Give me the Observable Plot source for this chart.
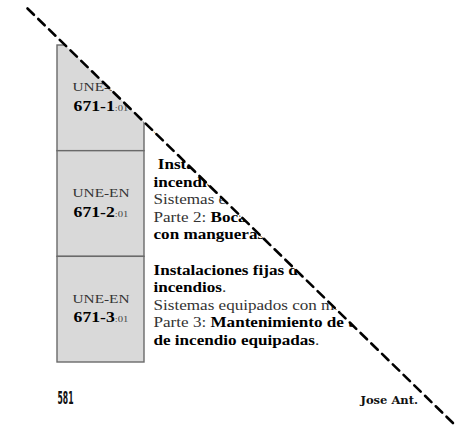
<!DOCTYPE html>
<html>
<head>
<meta charset="utf-8">
<script src="https://cdn.jsdelivr.net/npm/d3@7"></script>
<script src="https://cdn.jsdelivr.net/npm/@observablehq/plot@0.6"></script>
<style>
  html, body { margin: 0; padding: 0; background: #fff; }
</style>
</head>
<body>
<div id="chart"></div>
<script>
// ---- data ----
const standardPrefix = "UNE-EN";
const codes = ["671-1", "671-2", "671-3"];
const edition = ":01";
// description lines per standard (** ** = bold)
const descriptions1 = [
  "**Instalaciones fijas de lucha contra**",
  "**incendios**.",
  "Sistemas equipados con mangueras.",
  "Parte 1: **Bocas de incendio equipadas**",
  "**con mangueras semirrígidas**."
];
const descriptions2 = [
  "\u00a0**Instalaciones fijas de lucha contra**",
  "**incendios**.",
  "Sistemas equipados con mangueras.",
  "Parte 2: **Bocas de incendio equipadas**",
  "**con mangueras planas**."
];
const descriptions3 = [
  "**Instalaciones fijas de extinción de**",
  "**incendios**.",
  "Sistemas equipados con mangueras.",
  "Parte 3: **Mantenimiento de bocas**",
  "**de incendio equipadas**."
];
const pageNumber = "581";
const author = "Jose Ant.";
// the diagonal cut line across the page (page pixel coordinates)
const cutLine = [{x: 27, y: 8}, {x: 455, y: 425}];

// ---- layout ----
const W = 455, H = 428;
const SERIF = "'Liberation Serif', 'Times New Roman', serif";
const STRETCH = 1.18; // scanned page is wider than tall
const rowBand = d3.scaleBand(codes, [45, 362]);
const codeX1 = 57, codeX2 = 144, textX = 153;
const descSize = 14.5, lineStep = 17.5;
const descriptions = [descriptions1, descriptions2, descriptions3];
const descLines = descriptions.flatMap((lines, r) =>
  lines.map((text, i) => ({code: codes[r], i, text})));
const slope = (cutLine[1].y - cutLine[0].y) / (cutLine[1].x - cutLine[0].x);
const lineY = x => cutLine[0].y + slope * (x - cutLine[0].x);
const cutSpan = [-20, W + 20];
const mid = d => rowBand(d) + rowBand.bandwidth() / 2;

const plot = Plot.plot({
  width: W,
  height: H,
  margin: 0,
  x: {domain: [0, W], range: [0, W], axis: null},
  y: {domain: [0, H], range: [0, H], axis: null},
  style: {background: "#fff", fontFamily: SERIF},
  marks: [
    Plot.rect(codes, {
      x1: codeX1, x2: codeX2,
      y1: d => rowBand(d), y2: d => rowBand(d) + rowBand.bandwidth(),
      fill: "#d9d9d9", stroke: "#6a6a6a", strokeWidth: 1.4
    }),
    Plot.text(codes, {
      x: (codeX1 + codeX2) / 2, y: d => mid(d) - 7 - 0.32 * 13,
      text: () => standardPrefix, textAnchor: "middle", lineAnchor: "middle",
      fontSize: 13, fill: "#333", fontFamily: SERIF
    }),
    Plot.text(codes, {
      x: (codeX1 + codeX2) / 2, y: d => mid(d) + 12.5 - 0.32 * 15,
      text: d => `**${d}**{${edition}}`, textAnchor: "middle", lineAnchor: "middle",
      fontSize: 15, fill: "#222", fontFamily: SERIF
    }),
    Plot.text(descLines, {
      x: textX, y: d => rowBand(d.code) + 18 + d.i * lineStep - 0.32 * descSize,
      text: "text", textAnchor: "start", lineAnchor: "middle",
      fontSize: descSize, fill: "#333", fontFamily: SERIF
    }),
    Plot.text([pageNumber], {
      x: codeX1, y: 403 - 0.32 * 18, text: d => d, textAnchor: "start", lineAnchor: "middle",
      fontSize: 18, fontWeight: "bold", fill: "#111", fontFamily: "DejaVu Sans Condensed"
    }),
    Plot.text([author], {
      x: 360, y: 403 - 0.32 * 11.5, text: d => d, textAnchor: "start", lineAnchor: "middle",
      fontSize: 11.5, fontWeight: "bold", fill: "#111", fontFamily: "DejaVu Serif"
    }),
    Plot.areaY(cutSpan, {x: d => d, y1: -60, y2: d => lineY(d), fill: "#fff"}),
    Plot.line(cutLine, {x: "x", y: "y", stroke: "#000", strokeWidth: 2.6, strokeDasharray: "9,6"})
  ]
});

// rich-text: **bold**, {small}; horizontal stretch of the serif page text
const NS = "http://www.w3.org/2000/svg";
for (const t of plot.querySelectorAll("text")) {
  const s = t.textContent;
  if (s === pageNumber) {
    t.setAttribute("textLength", "16");
    t.setAttribute("lengthAdjust", "spacingAndGlyphs");
    continue;
  }
  if (s === author) continue;
  // stretch
  const tr = t.getAttribute("transform");
  if (tr && /translate/.test(tr)) {
    t.setAttribute("transform", tr + ` scale(${STRETCH},1)`);
  } else {
    const x = +t.getAttribute("x") || 0;
    t.setAttribute("transform", `translate(${x},0) scale(${STRETCH},1) translate(${-x},0)`);
  }
  if (!/\*\*|\{/.test(s)) continue;
  t.textContent = "";
  for (const part of s.split(/(\*\*[^*]+\*\*|\{[^}]+\})/)) {
    if (!part) continue;
    const ts = document.createElementNS(NS, "tspan");
    if (part.startsWith("**")) {
      ts.textContent = part.slice(2, -2);
      ts.setAttribute("font-weight", "bold");
      ts.setAttribute("fill", "#000");
    } else if (part.startsWith("{")) {
      ts.textContent = part.slice(1, -1);
      ts.setAttribute("font-size", "9");
      ts.setAttribute("fill", "#444");
    } else {
      ts.textContent = part;
    }
    t.appendChild(ts);
  }
}
document.getElementById("chart").appendChild(plot);
</script>
</body>
</html>
